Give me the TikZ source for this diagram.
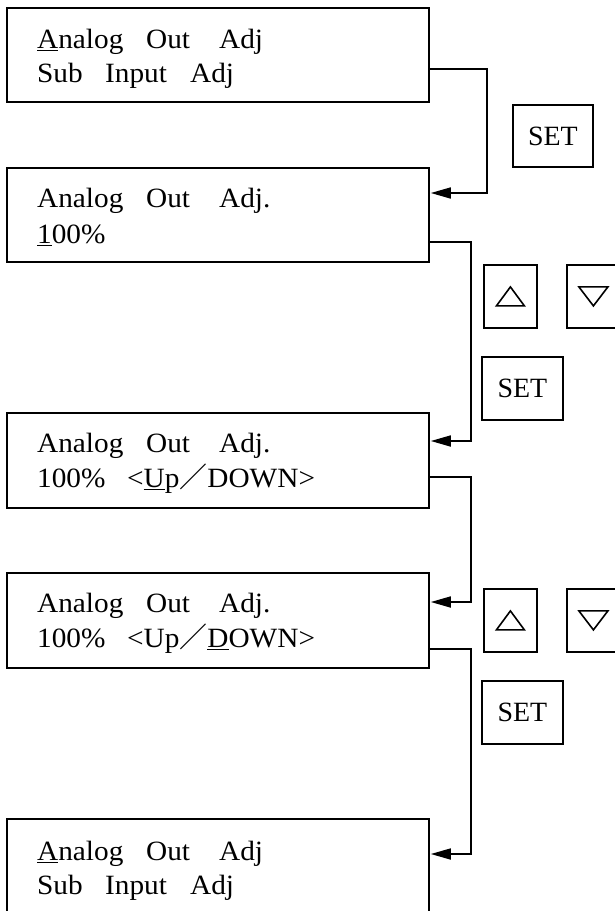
\documentclass[tikz,border=0pt]{standalone}
\usepackage{fontspec}
\setmainfont{Liberation Serif}[FakeStretch=1.05]
\newfontfamily\keyfont{Liberation Serif}
\newfontfamily\cjk{Noto Sans CJK JP}
\usetikzlibrary{arrows.meta,calc}

% cursor mark: a rule under one character, as wide as the character
\newcommand\cursor[1]{\setbox0\hbox{#1}\rlap{\rule[-3bp]{\wd0}{1.5bp}}\box0\relax}

\begin{document}
\begin{tikzpicture}[x=1bp,y=-1bp,
  screen/.style={draw, line width=1.8bp, minimum width=422bp, minimum height=94bp,
                 anchor=north west, inner sep=0pt},
  txt/.style={anchor=base west, inner sep=0pt, font=\fontsize{28}{28}\selectfont},
  keybox/.style={draw, line width=1.8bp, anchor=north west, inner sep=0pt,
                 font=\keyfont\fontsize{28}{28}\selectfont},
  setkey/.style={keybox, minimum width=81bp, minimum height=63bp},
  arrowkey/.style={keybox, minimum width=53bp, minimum height=63bp},
  glyph/.style={line width=1.6bp, line join=miter},
  link/.style={line width=1.7bp, -{Triangle[length=20bp,width=11bp]}},
]
\clip (0,0) rectangle (615,911);

% display screens
\node[screen] (s1) at (6,7) {};
\node[screen] (s2) at (6,167) {};
\node[screen, minimum height=95bp] (s3) at (6,412) {};
\node[screen, minimum height=95bp] (s4) at (6,572) {};
\node[screen, minimum height=120bp] (s5) at (6,818) {};

% screen contents
\node[txt] (s1a) at (37,48) {\makebox[109bp][l]{\cursor{A}nalog}\makebox[73bp][l]{Out}Adj};
\node[txt] (s1b) at (37,82) {\makebox[68bp][l]{Sub}\makebox[85bp][l]{Input}Adj};

\node[txt] (s2a) at (37,207) {\makebox[109bp][l]{Analog}\makebox[73bp][l]{Out}Adj.};
\node[txt] (s2b) at (37,243) {\cursor{1}00\%};

\node[txt] (s3a) at (37,452) {\makebox[109bp][l]{Analog}\makebox[73bp][l]{Out}Adj.};
\node[txt] (s3b) at (37,487) {\makebox[90bp][l]{100\%}<\cursor{U}p{\cjk ／}DOWN>};

\node[txt] (s4a) at (37,612) {\makebox[109bp][l]{Analog}\makebox[73bp][l]{Out}Adj.};
\node[txt] (s4b) at (37,647) {\makebox[90bp][l]{100\%}<Up{\cjk ／}\cursor{D}OWN>};

\node[txt] (s5a) at (37,860) {\makebox[109bp][l]{\cursor{A}nalog}\makebox[73bp][l]{Out}Adj};
\node[txt] (s5b) at (37,894) {\makebox[68bp][l]{Sub}\makebox[85bp][l]{Input}Adj};

% keys
\node[keybox, minimum width=80bp, minimum height=62bp] (set1) at (512,104) {SET};
\node[arrowkey] (up1) at (483,264) {};
\node[arrowkey] (dn1) at (566,264) {};
\node[setkey] (set2) at (481,356) {SET};
\node[arrowkey] (up2) at (483,588) {};
\node[arrowkey] (dn2) at (566,588) {};
\node[setkey] (set3) at (481,680) {SET};

% key glyphs
\foreach \k in {up1,up2}{
  \draw[glyph] ($(\k.center)+(-14,9.5)$) -- ($(\k.center)+(14,9.5)$)
               -- ($(\k.center)+(0,-9.5)$) -- cycle;
}
\foreach \k in {dn1,dn2}{
  \draw[glyph] ($(\k.center)+(-14.5,-9.5)$) -- ($(\k.center)+(14.5,-9.5)$)
               -- ($(\k.center)+(0,9.5)$) -- cycle;
}

% transitions
\draw[link] ($(s1.north east)+(0,62)$) -- ++(57,0) |- ($(s2.north east)+(1,26)$);
\draw[link] ($(s2.north east)+(0,75)$) -- ++(41,0) |- ($(s3.north east)+(1,29)$);
\draw[link] ($(s3.north east)+(0,65)$) -- ++(41,0) |- ($(s4.north east)+(1,30)$);
\draw[link] ($(s4.north east)+(0,77)$) -- ++(41,0) |- ($(s5.north east)+(1,36)$);
\end{tikzpicture}
\end{document}
